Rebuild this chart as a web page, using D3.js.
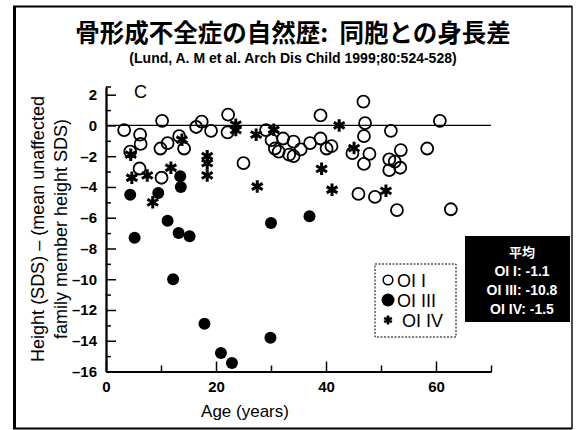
<!DOCTYPE html>
<html><head><meta charset="utf-8">
<script src="https://cdn.jsdelivr.net/npm/d3@7"></script>
<style>
body{margin:0;background:#fff;}
svg{display:block;}
</style></head>
<body>
<svg id="c" width="578" height="430"></svg>
<script>
// ---- data (age in years, height difference SDS) ----
const oi1 = [
  [3.3,-0.3],[4.4,-1.7],[6.2,-0.6],[6.3,-1.2],[6.1,-2.8],[10.2,0.3],[9.9,-1.5],[11.2,-1.15],
  [10.1,-3.4],[13.3,-0.7],[14.2,-1.5],[16.4,-0.1],[17.4,0.25],[19.1,-0.35],[22.2,0.7],[22.1,-0.45],
  [25.0,-2.45],[29.1,-0.3],[30.1,-0.95],[30.7,-1.5],[31.4,-1.7],[32.2,-0.85],[33.3,-1.9],[34.1,-1.05],
  [35.4,-1.55],[34.1,-2.0],[37.1,-1.15],[39.0,-0.85],[40.1,-1.5],[41.0,-1.35],[39.0,0.65],[44.8,-1.8],
  [46.9,-0.7],[47.1,0.15],[46.8,1.55],[47.9,-1.85],[46.9,-2.5],[51.8,-0.35],[53.6,-1.6],[51.5,-2.2],
  [52.5,-2.35],[53.5,-2.75],[51.5,-2.9],[58.4,-1.5],[60.7,0.3],[45.9,-4.45],[48.9,-4.65],[52.9,-5.5],
  [62.7,-5.45]
];
const oi3 = [
  [4.4,-4.5],[5.2,-7.3],[9.5,-4.4],[11.2,-6.2],[12.2,-10.0],[13.2,-7.0],[13.5,-3.3],[13.6,-4.0],
  [15.2,-7.2],[17.9,-12.9],[20.9,-14.8],[22.9,-15.45],[29.9,-13.8],[30.0,-6.35],[37.0,-5.9]
];
const oi4 = [
  [4.5,-1.9],[4.7,-3.4],[7.5,-3.25],[11.8,-2.75],[8.5,-5.0],[13.8,-0.93],[18.4,-2.0],[18.4,-2.45],
  [18.4,-3.25],[23.6,0.05],[23.6,-0.3],[27.3,-0.6],[27.5,-3.97],[30.5,-0.28],[42.4,0.0],[45.1,-1.47],
  [39.2,-2.82],[41.1,-4.18],[50.9,-4.25]
];
const xTickLabels = [0,20,40,60];
const xMinorTicks = [10,30,50,70];
const yTickLabels = [2,0,-2,-4,-6,-8,-10,-12,-14,-16];
const yMinorTicks = [1,-1,-3,-5,-7,-9,-11,-13,-15];
const legendItems = ["OI I","OI III","OI IV"];
const meanLines = ["平均","OI I: -1.1","OI III: -10.8","OI IV: -1.5"];
const titleText = "骨形成不全症の自然歴:\u00a0\u00a0同胞との身長差";
const subtitleText = "(Lund, A. M et al. Arch Dis Child 1999;80:524-528)";

const svg = d3.select("#c");
const x = d3.scaleLinear().domain([0,70]).range([106,491]);
const y = d3.scaleLinear().domain([-16,2.5]).range([371.5,87]);

// frame
svg.append("rect").attr("x",0).attr("y",0).attr("width",578).attr("height",430).attr("fill","#fff");
svg.append("line").attr("x1",14.5).attr("x2",14.5).attr("y1",6).attr("y2",429).attr("stroke","#000").attr("stroke-width",3);
svg.append("line").attr("x1",13).attr("x2",572).attr("y1",6.5).attr("y2",6.5).attr("stroke","#000").attr("stroke-width",2);
svg.append("line").attr("x1",572).attr("x2",572).attr("y1",6).attr("y2",429).attr("stroke","#111").attr("stroke-width",1.5);
svg.append("line").attr("x1",13).attr("x2",572).attr("y1",428.5).attr("y2",428.5).attr("stroke","#000").attr("stroke-width",2);

// title
svg.append("text").attr("x",293).attr("y",42).attr("text-anchor","middle")
  .attr("font-family","'Noto Sans CJK JP'").attr("font-weight","bold").attr("font-size",24.5)
  .text(titleText);
svg.append("text").attr("x",293).attr("y",63).attr("text-anchor","middle")
  .attr("font-family","'Liberation Sans',Arial").attr("font-weight","bold").attr("font-size",14)
  .text(subtitleText);

const font = "'Liberation Sans',Arial,Helvetica";

// zero line
svg.append("line").attr("x1",x(0)).attr("x2",x(70)).attr("y1",y(0)).attr("y2",y(0))
  .attr("stroke","#000").attr("stroke-width",1.2);

// axes
const yAx = svg.append("g").attr("transform",`translate(${x(0)},0)`)
  .call(d3.axisLeft(y).tickValues(yTickLabels).tickSize(-10).tickSizeOuter(0).tickPadding(9)
    .tickFormat(d => d < 0 ? "\u2013" + Math.abs(d) : d));
yAx.append("g").call(d3.axisLeft(y).tickValues(yMinorTicks).tickSize(-5).tickSizeOuter(0).tickFormat(""));
const xAx = svg.append("g").attr("transform",`translate(0,${y(-16)})`)
  .call(d3.axisBottom(x).tickValues(xTickLabels).tickSize(-10).tickSizeOuter(0).tickPadding(7));
xAx.append("g").call(d3.axisBottom(x).tickValues(xMinorTicks).tickSize(-6).tickSizeOuter(0).tickFormat(""));
svg.selectAll(".domain").attr("stroke","#000").attr("stroke-width",1.8);
svg.selectAll(".tick line").attr("stroke","#000").attr("stroke-width",1.5);
svg.selectAll(".tick text").attr("font-family",font).attr("font-weight","bold").attr("font-size",15).attr("fill","#000");
// top end tick of y axis
svg.append("line").attr("x1",x(0)).attr("x2",x(0)+5).attr("y1",y(2.5)).attr("y2",y(2.5)).attr("stroke","#000").attr("stroke-width",1.5);
xAx.selectAll(".tick text").attr("dy","0.9em");

// axis titles
const yl = svg.append("g").attr("transform","translate(50,229) rotate(-90)");
yl.append("text").attr("x",0).attr("y",-6).attr("text-anchor","middle")
  .attr("font-family",font).attr("font-size",18).text("Height (SDS) \u2013 (mean unaffected");
yl.append("text").attr("x",0).attr("y",17).attr("text-anchor","middle")
  .attr("font-family",font).attr("font-size",18).text("family member height SDS)");
svg.append("text").attr("x",245).attr("y",417).attr("text-anchor","middle")
  .attr("font-family",font).attr("font-size",17).text("Age (years)");

// panel letter
svg.append("text").attr("x",134).attr("y",98).attr("font-family",font).attr("font-size",18).text("C");

// marks
const starPath = d3.symbol().type(d3.symbolAsterisk).size(110);
svg.append("g").selectAll("circle").data(oi1).join("circle")
  .attr("cx",d=>x(d[0])).attr("cy",d=>y(d[1])).attr("r",6)
  .attr("fill","none").attr("stroke","#000").attr("stroke-width",1.8);
svg.append("g").selectAll("circle").data(oi3).join("circle")
  .attr("cx",d=>x(d[0])).attr("cy",d=>y(d[1])).attr("r",6).attr("fill","#000");
svg.append("g").selectAll("path").data(oi4).join("path")
  .attr("transform",d=>`translate(${x(d[0])},${y(d[1])})`).attr("d",starPath)
  .attr("fill","none").attr("stroke","#000").attr("stroke-width",3);

// legend
const lg = svg.append("g");
lg.append("rect").attr("x",375).attr("y",264).attr("width",81).attr("height",73)
  .attr("fill","#fff").attr("stroke","#000").attr("stroke-width",1).attr("stroke-dasharray","2,1.5");
legendItems.forEach((t,i)=>{
  const cy = 280 + i*20;
  if(i===0) lg.append("circle").attr("cx",388).attr("cy",cy).attr("r",4.8).attr("fill","none").attr("stroke","#000").attr("stroke-width",1.6);
  if(i===1) lg.append("circle").attr("cx",388).attr("cy",cy).attr("r",6.5).attr("fill","#000");
  if(i===2) lg.append("path").attr("transform",`translate(388,${cy})`).attr("d",d3.symbol().type(d3.symbolAsterisk).size(55)).attr("fill","none").attr("stroke","#000").attr("stroke-width",2.6);
  lg.append("text").attr("x",i===2?402:397).attr("y",cy+6.5).attr("font-family",font).attr("font-size",18).text(t);
});

// mean box
svg.append("rect").attr("x",465).attr("y",236).attr("width",105).attr("height",86).attr("fill","#000");
meanLines.forEach((t,i)=>{
  svg.append("text").attr("x",522).attr("y",257+i*19).attr("text-anchor","middle")
    .attr("font-family", i===0 ? "'Noto Sans CJK JP'" : font)
    .attr("font-weight","bold").attr("font-size",i===0?13:14).attr("fill","#fff").text(t);
});
</script>
</body></html>
